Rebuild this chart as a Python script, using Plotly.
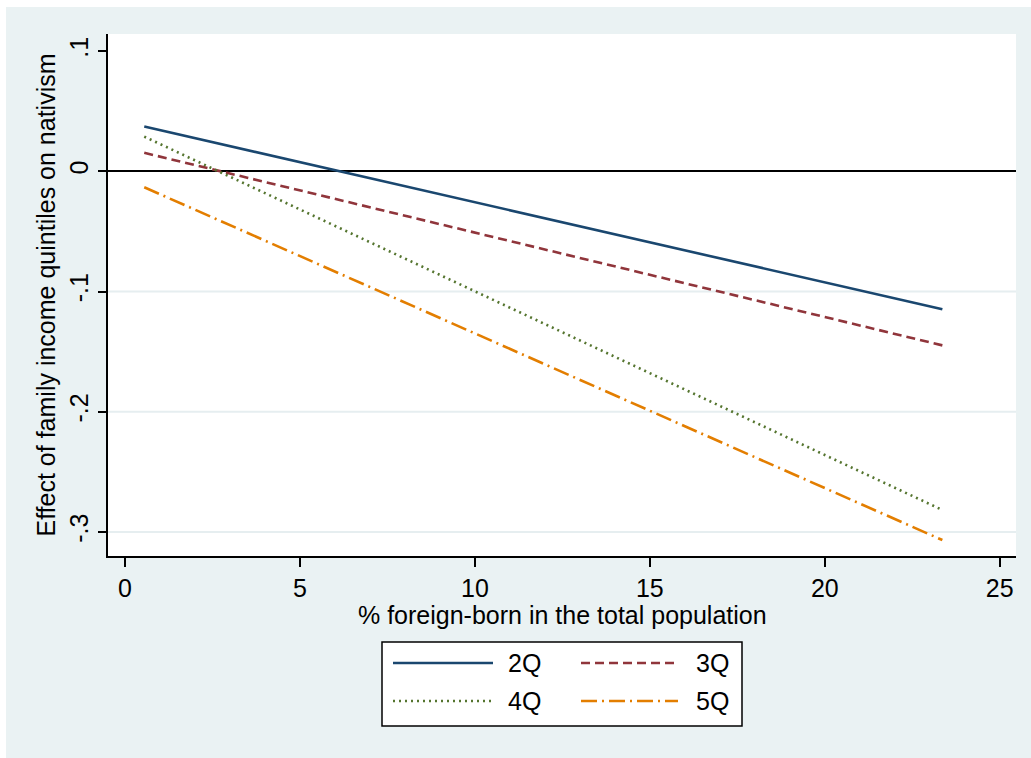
import plotly.graph_objects as go

# Predicted effect of each family-income quintile (vs. 1Q) on nativism,
# evaluated at the lowest and highest share of foreign-born residents.
foreign_born_pct = [0.55, 23.36]
series_names = ["2Q", "3Q", "4Q", "5Q"]
effect_2q = [0.0372, -0.1148]
effect_3q = [0.0153, -0.1448]
effect_4q = [0.0288, -0.2817]
effect_5q = [-0.0133, -0.3067]

x_ticks = [0, 5, 10, 15, 20, 25]
y_ticks = [-0.3, -0.2, -0.1, 0, 0.1]
y_tick_text = ["-.3", "-.2", "-.1", "0", ".1"]
y_grid = [-0.3, -0.2, -0.1]
x_title = "% foreign-born in the total population"
y_title = "Effect of family income quintiles on nativism"

colors = ["#1a476f", "#90353b", "#55752f", "#e37e00"]
dashes = ["solid", "9px,5px", "2px,4px", "16px,5px,2px,5px"]
series_values = [effect_2q, effect_3q, effect_4q, effect_5q]

W, H = 1031, 758
ML, MR, MT, MB = 108, 15, 34, 202
PW, PH = W - ML - MR, H - MT - MB
FONT = "Liberation Sans, Arial, sans-serif"
BG = "#eaf2f3"


def px_x(px):
    return (px - ML) / PW


def px_y(py):
    return (H - MB - py) / PH


fig = go.Figure()
for name, vals, col, dash in zip(series_names, series_values, colors, dashes):
    fig.add_trace(go.Scatter(
        x=foreign_born_pct, y=vals, mode="lines", name=name,
        line=dict(color=col, width=2.6, dash=dash),
        showlegend=False,
    ))

shapes = []
# white frame strips at the top and left edge of the page
shapes.append(dict(type="rect", xref="paper", yref="paper", layer="below",
                   x0=px_x(0), x1=px_x(W), y0=px_y(7), y1=px_y(0),
                   fillcolor="white", line=dict(width=0)))
shapes.append(dict(type="rect", xref="paper", yref="paper", layer="below",
                   x0=px_x(0), x1=px_x(6), y0=px_y(H), y1=px_y(0),
                   fillcolor="white", line=dict(width=0)))
# horizontal grid lines
for g in y_grid:
    shapes.append(dict(type="line", xref="paper", yref="y", layer="below",
                       x0=0, x1=1, y0=g, y1=g,
                       line=dict(color="#e6eef0", width=2)))

# legend box with two columns of keys
shapes.append(dict(type="rect", xref="paper", yref="paper",
                   x0=px_x(382), x1=px_x(742), y0=px_y(726), y1=px_y(642),
                   fillcolor="white", line=dict(color="black", width=1.5)))
key_cols = [(393, 493, 506), (581, 678, 694)]
key_rows = [663, 701]
annotations = []
for i, (name, col, dash) in enumerate(zip(series_names, colors, dashes)):
    kx0, kx1, tx = key_cols[i % 2]
    ky = key_rows[i // 2]
    shapes.append(dict(type="line", xref="paper", yref="paper",
                       x0=px_x(kx0), x1=px_x(kx1), y0=px_y(ky), y1=px_y(ky),
                       line=dict(color=col, width=2.6, dash=dash)))
    annotations.append(dict(xref="paper", yref="paper", x=px_x(tx), y=px_y(ky),
                            text=name, showarrow=False, xanchor="left",
                            yanchor="middle",
                            font=dict(family=FONT, size=25, color="black")))

# x-axis title placed just under the tick labels
annotations.append(dict(xref="paper", yref="paper", x=0.5, y=px_y(599),
                        text=x_title, showarrow=False, xanchor="center",
                        yanchor="top",
                        font=dict(family=FONT, size=25, color="black")))

fig.update_layout(
    width=W, height=H,
    margin=dict(l=ML, r=MR, t=MT, b=MB, pad=0),
    paper_bgcolor=BG, plot_bgcolor="white",
    font=dict(family=FONT, size=25, color="black"),
    showlegend=False,
    shapes=shapes, annotations=annotations,
    xaxis=dict(
        range=[-0.486, 25.464], tickvals=x_ticks, ticks="outside",
        ticklen=9, tickwidth=1.5, tickcolor="black",
        showline=True, linecolor="black", linewidth=1.5,
        showgrid=False, zeroline=False,
        tickfont=dict(family=FONT, size=25),
    ),
    yaxis=dict(
        range=[-0.31996, 0.11414], tickvals=y_ticks, ticktext=y_tick_text,
        tickangle=-90, ticks="outside", ticklen=8, tickwidth=1.5,
        tickcolor="black", showline=True, linecolor="black", linewidth=1.5,
        showgrid=False, zeroline=True, zerolinecolor="black",
        zerolinewidth=1.5,
        tickfont=dict(family=FONT, size=25),
        title=dict(text=y_title, font=dict(family=FONT, size=25), standoff=3),
    ),
)

fig.write_html("out.html")
